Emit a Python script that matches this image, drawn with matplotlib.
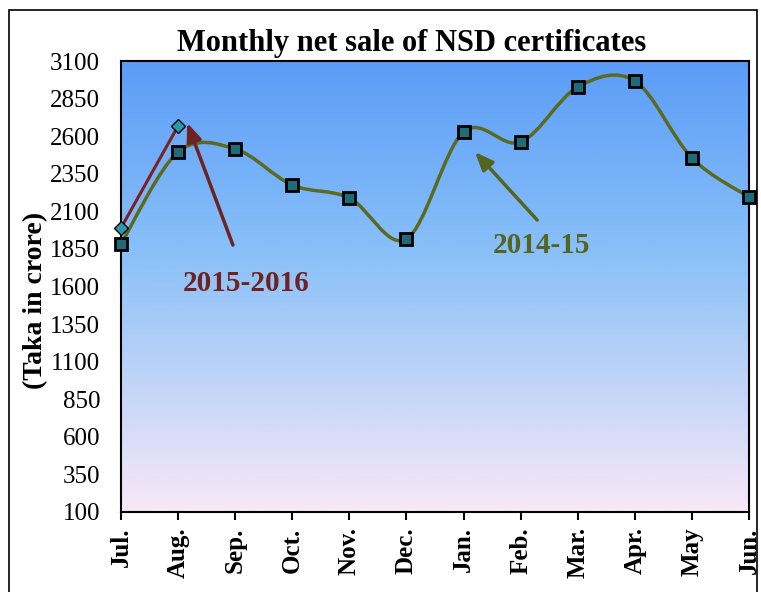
import numpy as np
import matplotlib.pyplot as plt
from matplotlib.path import Path
from matplotlib.patches import PathPatch, Rectangle
from matplotlib.colors import LinearSegmentedColormap

months = ["Jul.", "Aug.", "Sep.", "Oct.", "Nov.", "Dec.", "Jan.", "Feb.", "Mar.", "Apr.", "May", "Jun."]
sales_1415 = [1883, 2495, 2515, 2275, 2189, 1916, 2628, 2561, 2927, 2967, 2455, 2195]
sales_1516 = [1989, 2668]
yticks = list(range(100, 3101, 250))

plt.rcParams['font.family'] = ['Liberation Serif', 'DejaVu Serif']
plt.rcParams['font.weight'] = 'bold'

fig = plt.figure(figsize=(7.61, 5.92), dpi=100)
ax = fig.add_axes([121 / 761, 80 / 592, 628 / 761, 451 / 592])

# outer frame
fig.patches.append(Rectangle((9 / 761, -0.05), 748 / 761, 1.05 - 10 / 592, transform=fig.transFigure,
                             fill=False, edgecolor="black", linewidth=1.2))

x = np.arange(len(months))
ax.set_xlim(0, len(months) - 1)
ax.set_ylim(100, 3100)

# gradient background (pink bottom -> blue top)
grad = LinearSegmentedColormap.from_list("bg", [(0, "#f9e8f8"), (0.58, "#88c0f8"), (1, "#5c9cf8")])
ax.imshow(np.linspace(0, 1, 256).reshape(-1, 1), cmap=grad, aspect="auto", origin="lower",
          extent=[0, len(months) - 1, 100, 3100], zorder=0)


def smooth_path(xs, ys, t=1 / 6):
    # Catmull-Rom style bezier, like Excel smoothed line
    pts = np.column_stack([xs, ys]).astype(float)
    verts = [pts[0]]
    codes = [Path.MOVETO]
    n = len(pts)
    for i in range(n - 1):
        p0 = pts[max(i - 1, 0)]
        p1 = pts[i]
        p2 = pts[i + 1]
        p3 = pts[min(i + 2, n - 1)]
        c1 = p1 + (p2 - p0) * t
        c2 = p2 - (p3 - p1) * t
        verts += [c1, c2, p2]
        codes += [Path.CURVE4] * 3
    return Path(verts, codes)


ax.add_patch(PathPatch(smooth_path(x, sales_1415), fill=False, edgecolor="#5b6a1e", linewidth=2.5, zorder=3))
ax.plot(x, sales_1415, linestyle="none", marker="s", markersize=8, markerfacecolor="#1f6b78",
        markeredgecolor="black", markeredgewidth=2, zorder=5, clip_on=False)

ax.plot(x[:2], sales_1516, color="#7a2222", linewidth=2.2, marker="D", markersize=7,
        markerfacecolor="#2a9aaa", markeredgecolor="black", markeredgewidth=1, zorder=4, clip_on=False)

# annotations
red = "#6e2222"
olive = "#56651e"
ax.annotate("", xy=(1.16, 2688), xytext=(1.96, 1876),
            arrowprops=dict(arrowstyle="-|>,head_length=1.1,head_width=0.45", color=red, lw=2.5,
                            shrinkA=0, shrinkB=0))
ax.text(2.2, 1710, "2015-2016", color=red, fontsize=21, fontweight="bold", ha="center", va="top")
ax.annotate("", xy=(6.2, 2495), xytext=(7.29, 2042),
            arrowprops=dict(arrowstyle="-|>,head_length=1.1,head_width=0.45", color=olive, lw=2.5,
                            shrinkA=0, shrinkB=0))
ax.text(7.37, 1962, "2014-15", color=olive, fontsize=21, fontweight="bold", ha="center", va="top")

ax.set_title("Monthly net sale of NSD certificates", fontsize=22, fontweight="bold", x=0.463, pad=7)
ax.set_ylabel("(Taka in crore)", fontsize=20, fontweight="bold")
ax.yaxis.set_label_coords(-0.116, 0.47)
ax.set_yticks(yticks)
ax.set_yticklabels([str(v) for v in yticks], fontsize=18, fontweight="normal")
ax.set_xticks(x)
ax.set_xticklabels(months, rotation=90, fontsize=18)
ax.tick_params(axis="y", length=0, pad=15)
ax.tick_params(axis="x", length=6, width=1.5, direction="out", pad=5)
for s in ax.spines.values():
    s.set_linewidth(1.5)

fig.savefig("out.png", dpi=100)
